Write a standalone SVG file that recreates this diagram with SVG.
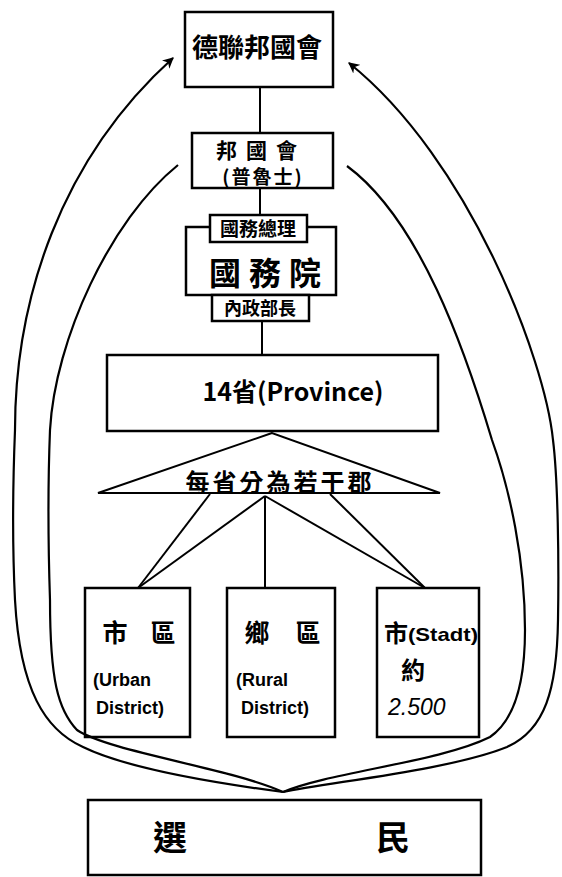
<svg xmlns="http://www.w3.org/2000/svg" width="562" height="877" viewBox="0 0 562 877">
<style>
.box{fill:none;stroke:#000;stroke-width:2.5}
.ln{fill:none;stroke:#000;stroke-width:2}
.cv{fill:none;stroke:#000;stroke-width:2.2}
.cj{font-family:"Noto Sans CJK TC","Noto Sans CJK SC",sans-serif;font-weight:bold;fill:#000;text-anchor:middle}
.lt{font-family:"Liberation Sans","DejaVu Sans",sans-serif;font-weight:bold;fill:#000}
.num{font-family:"Liberation Sans","DejaVu Sans",sans-serif;font-style:italic;font-weight:normal;fill:#000}
.wb{fill:#fff;stroke:#000;stroke-width:2.5}
</style>
<defs>
<marker id="ah" viewBox="0 0 10 10" refX="9" refY="5" markerWidth="5" markerHeight="5" orient="auto" markerUnits="strokeWidth">
<path d="M0,0 L10,5 L0,10 L3,5 Z" fill="#000"/>
</marker>
</defs>
<rect width="562" height="877" fill="#fff"/>

<g id="connectors">
<line class="ln" x1="260" y1="87" x2="260" y2="133"/>
<line class="ln" x1="260" y1="188" x2="260" y2="215"/>
<line class="ln" x1="262" y1="321" x2="262" y2="355"/>
<polygon class="ln" points="272,433 98,493 440,493"/>
<line class="ln" x1="210" y1="494" x2="138" y2="588"/>
<line class="ln" x1="265" y1="496" x2="138" y2="588"/>
<line class="ln" x1="265" y1="496" x2="265" y2="588"/>
<line class="ln" x1="265" y1="496" x2="425" y2="588"/>
<line class="ln" x1="330" y1="494" x2="425" y2="588"/>
<path class="cv" marker-end="url(#ah)" d="M283,792 C230,785 130,770 83,747 C45,730 20,690 15,600 C12,540 13,480 15,430 C15,300 60,160 173,58"/>
<path class="cv" d="M283,792 C230,768 110,752 77,730 C58,710 50,680 50,600 C48,540 48,480 50,430 C55,340 110,220 178,165"/>
<path class="cv" marker-end="url(#ah)" d="M283,792 C330,782 450,770 507,747 C545,730 557,690 558,620 C559,560 558,480 553,440 C545,360 470,160 349,63"/>
<path class="cv" d="M283,792 C330,772 440,762 490,737 C515,720 525,680 525,630 C525,560 510,490 492,440 C465,350 420,220 347,166"/>
</g>

<g id="n-bundestag">
<rect class="box" x="185" y="12" width="148" height="75"/>
<text class="cj" x="257" y="57" font-size="26">德聯邦國會</text>
</g>

<g id="n-bundesrat">
<rect class="box" x="192" y="133" width="141" height="55"/>
<text class="cj" x="261" y="158" font-size="21" letter-spacing="9">邦國會</text>
<text class="cj" x="263" y="184" font-size="19" letter-spacing="2">(普魯士)</text>
</g>

<g id="n-cabinet">
<rect class="box" x="186" y="227" width="150" height="68"/>
<rect class="wb" x="210" y="215" width="97" height="27"/>
<text class="cj" x="258" y="236" font-size="19">國務總理</text>
<text class="cj" x="269" y="285" font-size="32" letter-spacing="8">國務院</text>
<rect class="wb" x="212" y="295" width="97" height="26"/>
<text class="cj" x="260" y="315" font-size="18">內政部長</text>
</g>

<g id="n-province">
<rect class="box" x="107" y="355" width="331" height="76"/>
<text class="cj" x="293" y="401" font-size="25">14省(Province)</text>
</g>

<g id="n-county">
<text class="cj" x="280" y="491" font-size="24" letter-spacing="3">每省分為若干郡</text>
</g>

<g id="n-urban">
<rect class="box" x="85" y="588" width="105" height="149"/>
<text class="cj" x="115" y="642" font-size="25">市</text>
<text class="cj" x="163" y="642" font-size="25">區</text>
<text class="lt" x="93" y="686" font-size="18">(Urban</text>
<text class="lt" x="96" y="714" font-size="18">District)</text>
</g>

<g id="n-rural">
<rect class="box" x="227" y="588" width="108" height="149"/>
<text class="cj" x="257" y="642" font-size="25">鄉</text>
<text class="cj" x="308" y="642" font-size="25">區</text>
<text class="lt" x="236" y="686" font-size="18">(Rural</text>
<text class="lt" x="241" y="714" font-size="18">District)</text>
</g>

<g id="n-stadt">
<rect class="box" x="377" y="588" width="102" height="149"/>
<text class="cj" x="396" y="642" font-size="24">市</text>
<text class="lt" x="408" y="641" font-size="19" textLength="70" lengthAdjust="spacingAndGlyphs">(Stadt)</text>
<text class="cj" x="413" y="679" font-size="24">約</text>
<text class="num" x="388" y="715" font-size="23">2.500</text>
</g>

<g id="n-voters">
<rect class="box" x="88" y="800" width="393" height="75"/>
<text class="cj" x="170" y="850" font-size="34">選</text>
<text class="cj" x="393" y="850" font-size="34">民</text>
</g>
</svg>
